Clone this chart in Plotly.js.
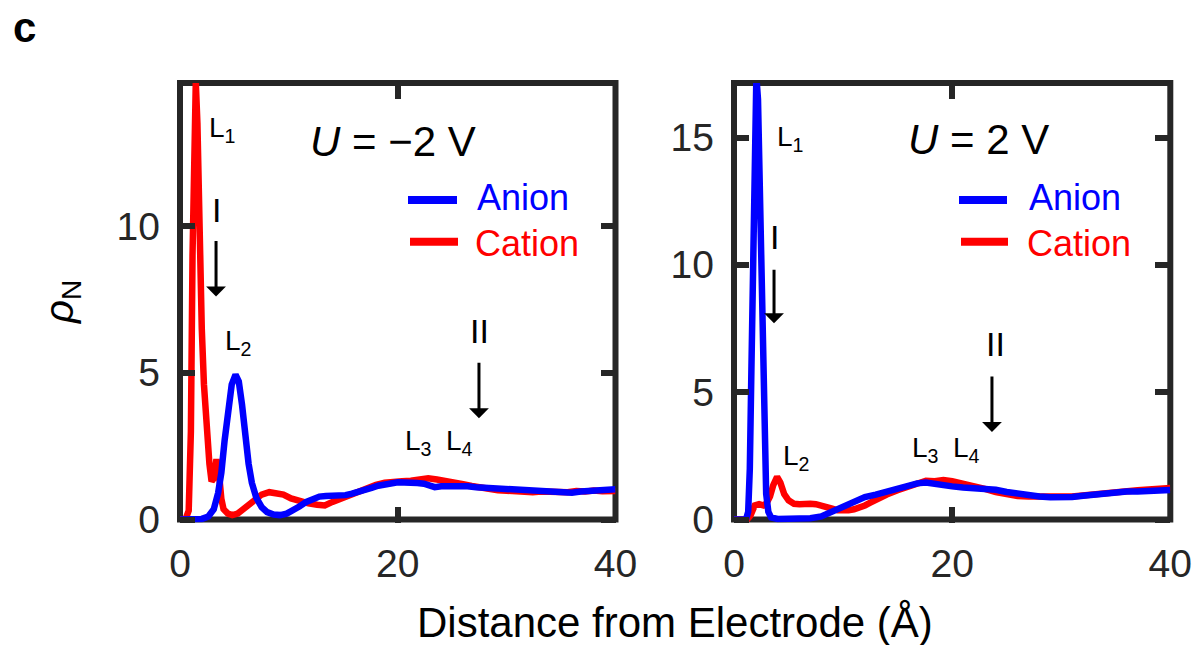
<!DOCTYPE html>
<html>
<head>
<meta charset="utf-8">
<script src="https://cdn.plot.ly/plotly-3.0.1.min.js"></script>
<style>
html,body{margin:0;padding:0;background:#fff;}
#chart{width:1197px;height:645px;}
</style>
</head>
<body>
<div id="chart"></div>
<script>
// ---------- data ----------
// Left panel: U = -2 V
const xCationNeg = [0,0.5,0.8,1.0,1.15,1.3,1.45,1.6,1.8,2.0,2.2,2.45,2.7,2.9,3.1,3.35,3.6,3.8,4.0,4.4,4.8,5.3,6.0,6.8,7.5,8.2,8.8,9.5,10.2,11.0,11.8,12.6,13.3,14.0,14.8,15.6,16.4,17.2,18.0,18.8,19.6,20.4,21.2,22.0,22.8,23.6,24.4,25.2,26.0,26.8,27.6,28.4,29.2,30.0,30.8,31.6,32.4,33.2,34.0,34.8,35.6,36.4,37.2,38.0,38.8,39.6,40];
const yCationNeg = [0,0,0.3,3,9,13.5,14.9,13.5,9.5,6.5,4.6,3.0,1.9,1.3,1.4,2.05,1.5,0.7,0.35,0.2,0.15,0.2,0.4,0.65,0.85,0.93,0.9,0.85,0.72,0.62,0.55,0.5,0.48,0.6,0.72,0.85,0.98,1.08,1.18,1.25,1.3,1.3,1.32,1.37,1.4,1.36,1.32,1.25,1.2,1.14,1.08,1.04,1.0,0.98,0.95,0.96,0.93,0.95,0.92,0.94,0.93,0.97,0.95,0.99,0.96,1.0,0.97];
const xAnionNeg = [0,1,2,2.6,3.1,3.5,3.8,4.1,4.4,4.75,5.1,5.4,5.7,6.0,6.3,6.6,7.0,7.5,8.0,8.6,9.2,9.8,10.4,11.0,11.6,12.2,12.8,13.4,14.0,14.6,15.2,15.8,16.4,17.0,17.6,18.2,18.8,19.4,20.0,20.6,21.2,21.8,22.4,23.0,23.4,24.0,24.8,25.6,26.4,27.2,28.0,28.8,29.6,30.4,31.2,32.0,32.8,33.6,34.4,35.2,36.0,36.8,37.6,38.4,39.2,40];
const yAnionNeg = [0,0,0.02,0.1,0.35,0.9,1.6,2.7,3.8,4.6,4.93,4.7,3.9,2.8,1.9,1.25,0.75,0.42,0.25,0.17,0.15,0.2,0.3,0.45,0.6,0.7,0.78,0.8,0.8,0.82,0.83,0.88,0.93,1.0,1.08,1.15,1.2,1.25,1.27,1.26,1.27,1.24,1.22,1.12,1.1,1.13,1.14,1.12,1.13,1.1,1.08,1.06,1.04,1.03,1.0,0.99,0.97,0.95,0.92,0.9,0.91,0.95,0.98,0.99,1.01,1.03];

// Right panel: U = 2 V
const xAnionPos = [0,1.1,1.3,1.45,1.6,1.75,1.9,2.05,2.2,2.35,2.5,2.65,2.8,2.95,3.15,3.4,4,5,6,7,8,9,10,11,12,13,14,15,16,16.8,17.6,18.2,19,20,21,22,23,24,25,26,27,28,29,30,31,32,33,34,35,36,37,38,39,40];
const yAnionPos = [0,0,0.3,2,6,11,15.5,17.4,16.5,13.5,9.5,5.5,2.5,1.0,0.3,0.08,0.02,0.01,0.02,0.05,0.12,0.3,0.5,0.7,0.88,0.98,1.1,1.22,1.32,1.42,1.45,1.4,1.33,1.3,1.26,1.25,1.2,1.17,1.08,1.0,0.93,0.9,0.87,0.86,0.88,0.93,0.98,1.04,1.08,1.1,1.1,1.12,1.13,1.16];
const xCationPos = [0,1.2,1.5,1.9,2.3,2.7,3.0,3.3,3.6,3.95,4.25,4.6,5.0,5.5,6.0,6.5,7.0,7.5,8.0,8.5,9.0,9.5,10.0,10.5,11.0,11.5,12.0,12.5,13.0,14,15,16,17,17.6,18.4,19.2,20,21,22,23,24,25,26,27,28,29,30,31,32,33,34,35,36,37,38,39,40];
const yCationPos = [0,0,0.15,0.55,0.6,0.55,0.65,0.9,1.35,1.67,1.45,1.0,0.75,0.62,0.6,0.63,0.62,0.6,0.56,0.52,0.43,0.36,0.33,0.36,0.4,0.45,0.55,0.66,0.78,0.98,1.15,1.3,1.45,1.52,1.5,1.55,1.5,1.42,1.32,1.2,1.08,0.98,0.92,0.9,0.88,0.87,0.9,0.9,0.95,1.0,1.05,1.1,1.12,1.15,1.18,1.2,1.24];

const seriesNames = ['Anion','Cation'];
const panelTitles = ['<i>U</i> = \u22122 V','<i>U</i> = 2 V'];
const xTicks = [0,20,40];
const yTicksLeft = [0,5,10];
const yTicksRight = [0,5,10,15];
const xTitle = 'Distance from Electrode (\u00c5)';
const yTitle = '<i>\u03c1</i><sub>N</sub>';

// ---------- geometry (pixels) ----------
const W = 1197, H = 645;
const FONT = 'Liberation Sans, Arial, Helvetica, sans-serif';
const DARK = '#262626';
const BLUE = '#0000ff', RED = '#ff0000';
const PAD = 3;                 // extra room below y=0 so the zero line isn't clipped
const TOPY = 83, ZEROY = 519.5;
const PL = {x0: 180, x1: 615.5, ymax: 14.87};
const PR = {x0: 734, x1: 1170.3, ymax: 17.14};
const px = v => v / W;
const py = v => 1 - v / H;
function yLow(p){ return -PAD * p.ymax / (ZEROY - TOPY); }

function axisX(p, anchor){
  return {
    domain: [px(p.x0), px(p.x1)], range: [0, 40], anchor: anchor,
    tickvals: xTicks, ticks: 'inside', ticklen: 16, tickwidth: 6, tickcolor: DARK,
    mirror: 'allticks', showline: false, showgrid: false, zeroline: false,
    tickfont: {family: FONT, size: 39, color: DARK}, ticklabelstandoff: 14
  };
}
function axisY(p, anchor, ticks){
  return {
    domain: [py(ZEROY + PAD), py(TOPY)], range: [yLow(p), p.ymax], anchor: anchor,
    tickvals: ticks, ticks: 'inside', ticklen: 15, tickwidth: 6, tickcolor: DARK,
    mirror: 'allticks', showline: false, showgrid: false, zeroline: false,
    tickfont: {family: FONT, size: 39, color: DARK}, ticklabelstandoff: 19
  };
}

const traces = [
  {x: xCationNeg, y: yCationNeg, name: seriesNames[1], xaxis: 'x', yaxis: 'y', mode: 'lines', line: {color: RED, width: 6.5}, showlegend: false},
  {x: xAnionNeg, y: yAnionNeg, name: seriesNames[0], xaxis: 'x', yaxis: 'y', mode: 'lines', line: {color: BLUE, width: 6.5}, showlegend: false},
  {x: xCationPos, y: yCationPos, name: seriesNames[1], xaxis: 'x2', yaxis: 'y2', mode: 'lines', line: {color: RED, width: 6.5}, showlegend: false},
  {x: xAnionPos, y: yAnionPos, name: seriesNames[0], xaxis: 'x2', yaxis: 'y2', mode: 'lines', line: {color: BLUE, width: 6.5}, showlegend: false}
];

function frame(p){
  return {type: 'rect', xref: 'paper', yref: 'paper', x0: px(p.x0), x1: px(p.x1), y0: py(ZEROY), y1: py(TOPY),
          line: {color: DARK, width: 6}, fillcolor: 'rgba(0,0,0,0)', layer: 'below'};
}
function legLine(x0, x1, y, color){
  return {type: 'line', xref: 'paper', yref: 'paper', x0: px(x0), x1: px(x1), y0: py(y), y1: py(y), line: {color: color, width: 8}};
}

function txt(text, x, y, xref, yref, size, extra){
  return Object.assign({text: text, x: x, y: y, xref: xref, yref: yref, showarrow: false,
    xanchor: 'center', yanchor: 'middle', font: {family: FONT, size: size, color: '#000'}}, extra || {});
}
function arrow(x, y, xref, yref, ay){
  return {text: '', x: x, y: y, xref: xref, yref: yref, showarrow: true, ax: 0, ay: ay,
          arrowhead: 1, arrowsize: 1.1, arrowwidth: 3, arrowcolor: '#000', standoff: 0};
}

const annotations = [
  txt('<b>c</b>', px(24), py(28), 'paper', 'paper', 42),
  txt(yTitle, px(62), py(302), 'paper', 'paper', 40, {textangle: -90, font: {family: FONT, size: 40, color: '#000'}}),
  txt(xTitle, px(675), py(622), 'paper', 'paper', 42),
  // left panel
  txt(panelTitles[0], px(393), py(142), 'paper', 'paper', 42),
  txt(seriesNames[0], px(475), py(198), 'paper', 'paper', 36, {xanchor: 'left', font: {family: FONT, size: 36, color: BLUE}}),
  txt(seriesNames[1], px(473), py(243), 'paper', 'paper', 36, {xanchor: 'left', font: {family: FONT, size: 36, color: RED}}),
  txt('L<sub>1</sub>', 3.86, 13.28, 'x', 'y', 28),
  txt('I', 3.31, 10.55, 'x', 'y', 34),
  arrow(3.31, 7.6, 'x', 'y', -57),
  txt('L<sub>2</sub>', 5.33, 6.02, 'x', 'y', 28),
  txt('II', 27.55, 6.43, 'x', 'y', 34),
  arrow(27.46, 3.45, 'x', 'y', -57),
  txt('L<sub>3</sub>', 21.86, 2.61, 'x', 'y', 28),
  txt('L<sub>4</sub>', 25.63, 2.61, 'x', 'y', 28),
  // right panel
  txt(panelTitles[1], px(978), py(140), 'paper', 'paper', 42),
  txt(seriesNames[0], px(1027), py(198), 'paper', 'paper', 36, {xanchor: 'left', font: {family: FONT, size: 36, color: BLUE}}),
  txt(seriesNames[1], px(1025), py(243), 'paper', 'paper', 36, {xanchor: 'left', font: {family: FONT, size: 36, color: RED}}),
  txt('L<sub>1</sub>', 5.13, 14.96, 'x2', 'y2', 28),
  txt('I', 3.67, 11.08, 'x2', 'y2', 34),
  arrow(3.67, 7.71, 'x2', 'y2', -55),
  txt('L<sub>2</sub>', 5.68, 2.45, 'x2', 'y2', 28),
  txt('L<sub>3</sub>', 17.6, 2.73, 'x2', 'y2', 28),
  txt('L<sub>4</sub>', 21.27, 2.73, 'x2', 'y2', 28),
  txt('II', 23.93, 6.88, 'x2', 'y2', 34),
  arrow(23.65, 3.44, 'x2', 'y2', -57)
];

const layout = {
  width: W, height: H,
  margin: {l: 0, r: 0, t: 0, b: 0},
  paper_bgcolor: '#fff', plot_bgcolor: 'rgba(0,0,0,0)',
  showlegend: false,
  xaxis: axisX(PL, 'y'),
  yaxis: axisY(PL, 'x', yTicksLeft),
  xaxis2: axisX(PR, 'y2'),
  yaxis2: axisY(PR, 'x2', yTicksRight),
  shapes: [frame(PL), frame(PR),
           legLine(408, 457, 200, BLUE), legLine(410, 458, 241.7, RED),
           legLine(959, 1007, 200, BLUE), legLine(961, 1008, 241.7, RED)],
  annotations: annotations
};

Plotly.newPlot('chart', traces, layout, {staticPlot: true, displayModeBar: false});
</script>
</body>
</html>
